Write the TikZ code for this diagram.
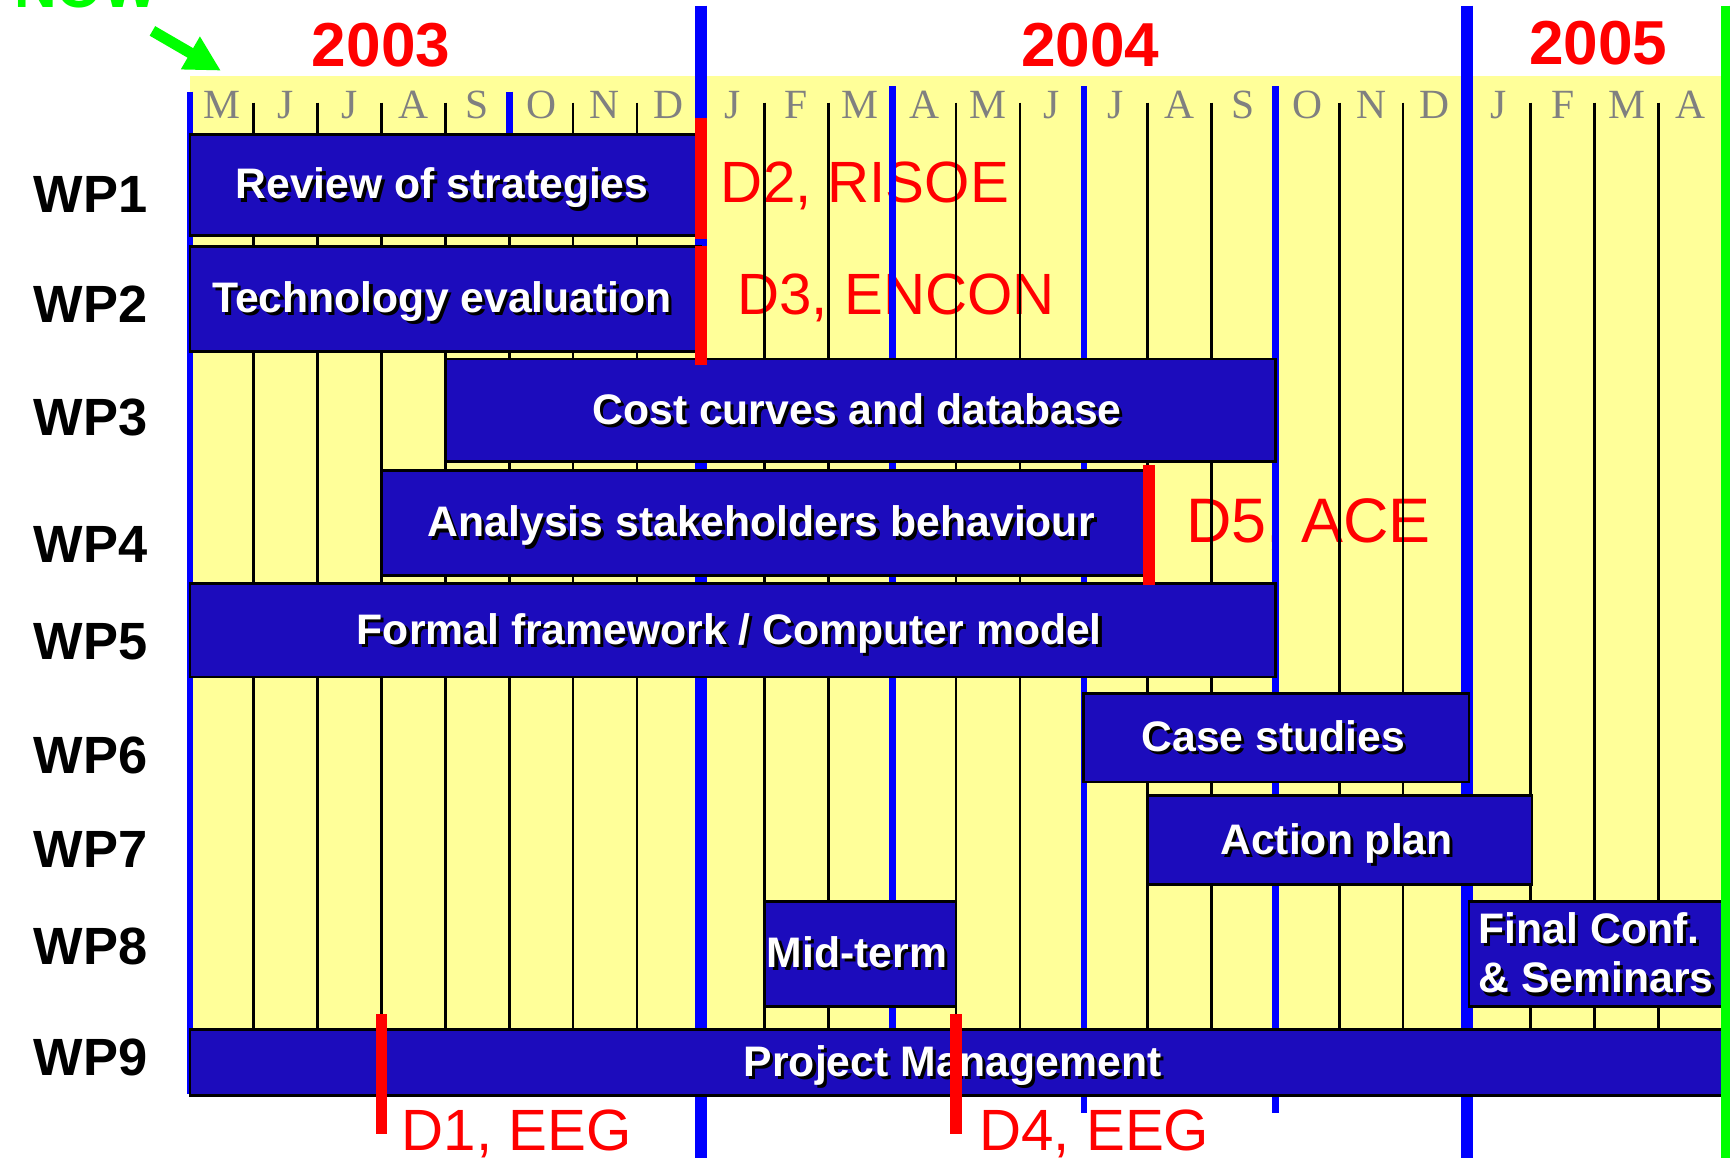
\documentclass[tikz,border=0pt]{standalone}
\usepackage{fontspec}
\setmainfont{Liberation Sans}
\newfontfamily\monthfont{Liberation Serif}
\usepackage{tikz}
\usetikzlibrary{arrows.meta}
\usetikzlibrary{positioning}

\definecolor{barblue}{RGB}{28,12,188}
\definecolor{chartyellow}{RGB}{255,255,153}
\definecolor{lineblue}{RGB}{0,0,255}
\definecolor{nowgreen}{RGB}{0,255,0}
\definecolor{monthgray}{RGB}{128,128,128}

\newcommand{\shad}[1]{\makebox[0pt][l]{\hspace{0.8pt}\raisebox{-0.8pt}{\color{black}#1}}#1}

\begin{document}
\begin{tikzpicture}[x=0.1mm,y=-0.1mm,>=Stealth,
    wplabel/.style={anchor=base west,inner sep=0pt,font=\fontsize{13.5}{16}\selectfont\bfseries},
    yearlbl/.style={anchor=base,inner sep=0pt,text=red,font=\fontsize{16}{19}\selectfont\bfseries},
    milelbl/.style={anchor=base west,inner sep=0pt,text=red,font=\fontsize{15}{18}\selectfont},
    monthlbl/.style={anchor=base,inner sep=0pt,text=monthgray,font=\monthfont\fontsize{10.7}{12}\selectfont},
    monthline/.style={line width=0.7pt},
    wpbar/.style={draw=black,line width=0.7pt,fill=barblue},
    bartext/.style={inner sep=0pt,xshift=-0.3mm,text=white,text height=0.72em,text depth=0pt,font=\fontsize{11}{13}\selectfont\bfseries},
    quarter/.style={draw=lineblue,line width=1.7pt},
    yearline/.style={draw=lineblue,line width=3pt},
    due/.style={draw=red,line width=3pt}]
	\useasboundingbox (0,0) rectangle (1568,1048);
	\fill[chartyellow] (172,69) rectangle (1559,932);
	% deliverables
	\node[milelbl] (d2) at (652,183) {D2, RISOE};
	\node[milelbl] (d3) at (667,285) {D3, ENCON};
	\node[milelbl,font=\fontsize{16.2}{19}\selectfont] (d5) at (1073,491) {D5, ACE};
	\node[milelbl] (d1) at (363,1042) {D1, EEG};
	\node[milelbl] (d4) at (886,1042) {D4, EEG};
	% months
	\foreach \i in {1,...,23}
		\draw[monthline] ({172+57.8*\i},93) -- ({172+57.8*\i},932);
	\foreach \m [count=\i from 0] in {M,J,J,A,S,O,N,D,J,F,M,A,M,J,J,A,S,O,N,D,J,F,M,A}
		\node[monthlbl] (m\i) at ({172+57.8*(\i+0.5)},107) {\m};
	\draw[quarter] (172,83) -- (172,990);
	\draw[quarter] (461,83) -- (461,121);
	\draw[quarter] (807.8,78) -- (807.8,932);
	\draw[quarter] (981.2,78) -- (981.2,1008);
	\draw[quarter] (1154.6,78) -- (1154.6,1008);
	\draw[yearline] (634.4,5) -- (634.4,1048);
	\draw[yearline] (1328,5) -- (1328,1048);
	% work packages
	\node[wplabel] (wp1) at (30,192) {WP1};
	\node[wplabel] (wp2) at (30,292) {WP2};
	\node[wplabel] (wp3) at (30,394) {WP3};
	\node[wplabel] (wp4) at (30,509) {WP4};
	\node[wplabel] (wp5) at (30,597) {WP5};
	\node[wplabel] (wp6) at (30,700) {WP6};
	\node[wplabel] (wp7) at (30,785) {WP7};
	\node[wplabel] (wp8) at (30,873) {WP8};
	\node[wplabel] (wp9) at (30,974) {WP9};
	\draw[wpbar] (172,122) rectangle (634.4,213) node[midway,bartext] (review) {\shad{Review of strategies}};
	\draw[wpbar] (172,223) rectangle (634.4,318) node[midway,bartext] (techeval) {\shad{Technology evaluation}};
	\draw[wpbar] (403.2,325) rectangle (1154.6,418) node[midway,bartext] (costcurves) {\shad{Cost curves and database}};
	\draw[wpbar] (345.4,426) rectangle (1039,521) node[midway,bartext] (stakeholders) {\shad{Analysis stakeholders behaviour}};
	\draw[wpbar] (172,528) rectangle (1154.6,613) node[midway,bartext] (framework) {\shad{Formal framework / Computer model}};
	\draw[wpbar] (981.2,628) rectangle (1330,708) node[midway,bartext] (casestudies) {\shad{Case studies}};
	\draw[wpbar] (1039,720) rectangle (1387,801) node[midway,bartext] (actionplan) {\shad{Action plan}};
	\draw[wpbar] (692.2,816) rectangle (865.6,911) node[midway,bartext] (midterm) {\shad{Mid-term}};
	\draw[wpbar] (1330,816) rectangle (1559,911);
	\node[inner sep=0pt,text=white,anchor=west,align=left,font=\fontsize{11}{12.8}\selectfont\bfseries] (finalconf) at (1338,864) {\shad{Final Conf.}\\\shad{\& Seminars}};
	\draw[wpbar] (172,932) rectangle (1559,992) node[midway,bartext] (management) {\shad{Project Management}};
	% milestones
	\draw[due] (634.4,107) -- (634.4,216);
	\draw[due] (634.4,223) -- (634.4,330);
	\draw[due] (1040,421) -- (1040,530);
	\draw[due] (345.4,918) -- (345.4,1027);
	\draw[due] (865.6,918) -- (865.6,1027);
	% years
	\node[yearlbl] (y2003) at (345,60) {2003};
	\node[yearlbl] (y2004) at (987,60) {2004};
	\node[yearlbl] (y2005) at (1447,58) {2005};
	% now
	\draw[nowgreen,line width=2.3pt] (1562,5) -- (1562,1048);
	\node[anchor=base west,inner sep=0pt,text=nowgreen,font=\fontsize{15.2}{18}\selectfont\bfseries] (now) at (12,7) {NOW};
	\coordinate (nowtail) at (138,28);
	\coordinate (nowtip) at (200,64);
	\draw[nowgreen,line width=1mm,-{Triangle[length=3.2mm,width=3.2mm]}] (nowtail) -- (nowtip);
\end{tikzpicture}
\end{document}
